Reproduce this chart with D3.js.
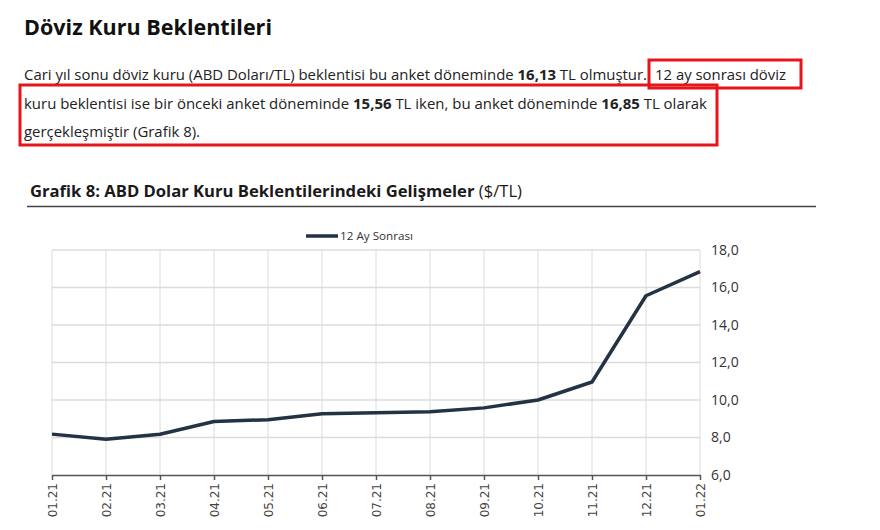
<!DOCTYPE html>
<html>
<head>
<meta charset="utf-8">
<script src="https://cdn.jsdelivr.net/npm/d3@7"></script>
<style>
body { margin: 0; background: #fff; }
text { font-family: "Open Sans", "DejaVu Sans", sans-serif; }
</style>
</head>
<body>
<svg id="chart" width="880" height="530"></svg>
<script>
// data
var months = ["01.21", "02.21", "03.21", "04.21", "05.21", "06.21", "07.21",
              "08.21", "09.21", "10.21", "11.21", "12.21", "01.22"]
var values = [8.18, 7.91, 8.17, 8.85, 8.95, 9.27, 9.32, 9.37, 9.58, 10.0, 10.96, 15.56, 16.85]
var y_ticks = [6, 8, 10, 12, 14, 16, 18]
var series_name = "12 Ay Sonrası"

var plot_left = 52
var plot_right = 700
var plot_top = 250
var plot_bottom = 475
var line_color = "#233343"

var svg = d3.select("#chart")

/*********
*text top*
*********/
svg.append("text")
  .attr("x", 24)
  .attr("y", 35)
  .attr("font-size", 22)
  .attr("font-weight", "bold")
  .attr("fill", "#111")
  .attr("textLength", 248)
  .attr("lengthAdjust", "spacingAndGlyphs")
  .text("Döviz Kuru Beklentileri")

// each segment is a list of [text, bold]
var para = [
  {x: 24, y: 80, w: 623, parts: [["Cari yıl sonu döviz kuru (ABD Doları/TL) beklentisi bu anket döneminde ", false], ["16,13", true], [" TL olmuştur.", false]]},
  {x: 655, y: 80, w: 131, parts: [["12 ay sonrası döviz", false]]},
  {x: 24, y: 109, w: 683, parts: [["kuru beklentisi ise bir önceki anket döneminde ", false], ["15,56", true], [" TL iken, bu anket döneminde ", false], ["16,85", true], [" TL olarak", false]]},
  {x: 24, y: 137, w: 176, parts: [["gerçekleşmiştir (Grafik 8).", false]]}
]

var p_lines = svg.selectAll(".para")
  .data(para)
  .enter()
  .append("text")
  .attr("class", "para")
  .attr("x", function(d){ return d.x })
  .attr("y", function(d){ return d.y })
  .attr("font-size", 15)
  .attr("fill", "#222")
  .attr("textLength", function(d){ return d.w })
  .attr("lengthAdjust", "spacingAndGlyphs")

p_lines.selectAll("tspan")
  .data(function(d){ return d.parts })
  .enter()
  .append("tspan")
  .attr("font-weight", function(d){ return d[1] ? "bold" : "normal" })
  .text(function(d){ return d[0] })

// red highlight boxes
svg.append("rect")
  .attr("x", 649).attr("y", 60).attr("width", 152).attr("height", 28)
  .attr("fill", "none").attr("stroke", "#e8141b").attr("stroke-width", 3)
svg.append("rect")
  .attr("x", 20).attr("y", 85).attr("width", 697).attr("height", 60)
  .attr("fill", "none").attr("stroke", "#e8141b").attr("stroke-width", 3)

/************
*chart title*
************/
var title = svg.append("text")
  .attr("x", 30)
  .attr("y", 197)
  .attr("font-size", 16)
  .attr("fill", "#1a1a1a")
  .attr("textLength", 492)
  .attr("lengthAdjust", "spacingAndGlyphs")
title.append("tspan").attr("font-weight", "bold")
  .text("Grafik 8: ABD Dolar Kuru Beklentilerindeki Gelişmeler ")
title.append("tspan").text("($/TL)")

svg.append("line")
  .attr("x1", 27).attr("x2", 816)
  .attr("y1", 206.5).attr("y2", 206.5)
  .attr("stroke", "#444").attr("stroke-width", 1.5)

/******
*scales*
******/
var x = d3.scalePoint()
  .domain(months)
  .range([plot_left, plot_right])

var y = d3.scaleLinear()
  .domain([6, 18])
  .range([plot_bottom, plot_top])

// grid
var grid = svg.append("g").attr("class", "grid")
grid.selectAll(".vgrid")
  .data(months)
  .enter()
  .append("line")
  .attr("class", "vgrid")
  .attr("x1", function(d){ return x(d) })
  .attr("x2", function(d){ return x(d) })
  .attr("y1", plot_top)
  .attr("y2", plot_bottom)
  .attr("stroke", "#dcdcdc")
  .attr("stroke-width", 1)

grid.selectAll(".hgrid")
  .data(y_ticks.slice(1))
  .enter()
  .append("line")
  .attr("class", "hgrid")
  .attr("x1", plot_left)
  .attr("x2", plot_right)
  .attr("y1", function(d){ return y(d) })
  .attr("y2", function(d){ return y(d) })
  .attr("stroke", "#dcdcdc")
  .attr("stroke-width", 1.5)

// axes
var fmt = function(d){ return d3.format(".1f")(d).replace(".", ",") }

var y_axis = svg.append("g")
  .attr("transform", "translate(" + plot_right + ",0)")
  .call(d3.axisRight(y).tickValues(y_ticks).tickFormat(fmt).tickSize(0).tickPadding(11))
y_axis.select(".domain").remove()
y_axis.selectAll("text")
  .attr("font-size", 14)
  .attr("fill", "#333")
  .style("font-family", "\"Open Sans\", sans-serif")

var x_axis = svg.append("g")
  .attr("transform", "translate(0," + plot_bottom + ")")
  .call(d3.axisBottom(x).tickSize(5).tickSizeOuter(0))
x_axis.select(".domain").attr("stroke", "#555").attr("stroke-width", 1.5)
x_axis.selectAll(".tick line").attr("stroke", "#555").attr("stroke-width", 1.5)
x_axis.selectAll("text")
  .attr("font-size", 12)
  .attr("fill", "#444")
  .style("font-family", "\"DejaVu Sans\", sans-serif")
  .attr("text-anchor", "end")
  .attr("transform", "rotate(-90)")
  .attr("x", -8)
  .attr("y", 0)
  .attr("dy", "0.35em")

// the line
var line = d3.line()
  .x(function(d, i){ return x(months[i]) })
  .y(function(d){ return y(d) })

svg.append("path")
  .datum(values)
  .attr("d", line)
  .attr("fill", "none")
  .attr("stroke", line_color)
  .attr("stroke-width", 3.5)
  .attr("stroke-linejoin", "round")

// legend
svg.append("line")
  .attr("x1", 306).attr("x2", 338)
  .attr("y1", 236).attr("y2", 236)
  .attr("stroke", line_color).attr("stroke-width", 3.5)
svg.append("text")
  .attr("x", 340)
  .attr("y", 240)
  .attr("font-size", 11)
  .attr("fill", "#333")
  .attr("textLength", 73)
  .attr("lengthAdjust", "spacingAndGlyphs")
  .text(series_name)
</script>
</body>
</html>
